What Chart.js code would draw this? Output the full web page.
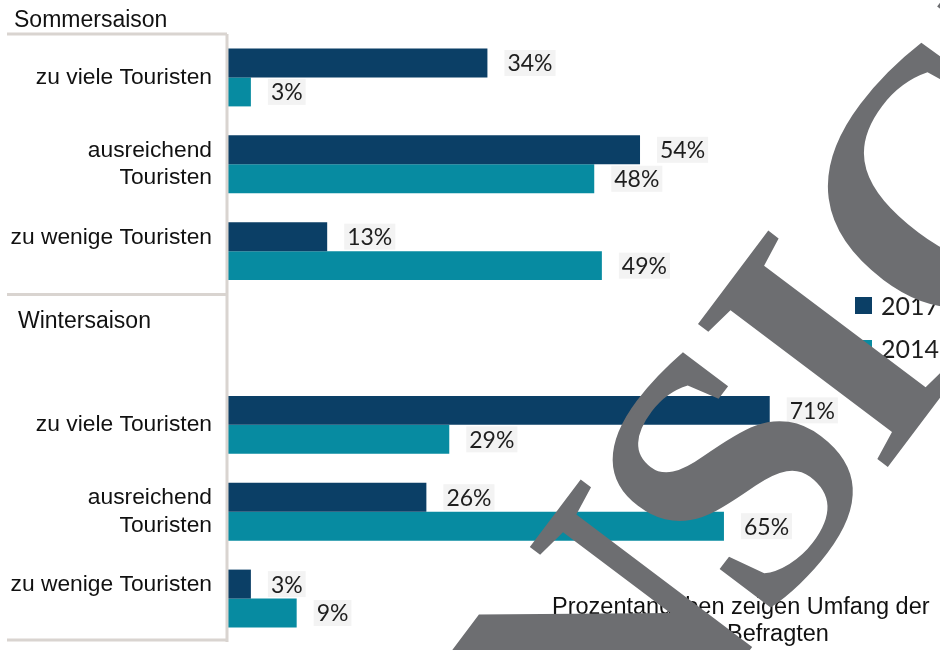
<!DOCTYPE html>
<html>
<head>
<meta charset="utf-8">
<script src="https://cdn.jsdelivr.net/npm/chart.js@4"></script>
<style>
  html, body { margin: 0; padding: 0; background: #fff; overflow: hidden; }
  #wrap { position: relative; width: 1000px; height: 650px; }
</style>
</head>
<body>
<div id="wrap"><canvas id="chartCanvas" width="1000" height="650"></canvas></div>
<script>
// --- data ---
const categories = [
  "zu viele Touristen", ["ausreichend", "Touristen"], ["zu wenige Touristen", ""],
  "",
  "zu viele Touristen", ["ausreichend", "Touristen"], ["zu wenige Touristen", ""]
];
const seasons = ["Sommersaison", "Wintersaison"];
const seriesLabels = ["2017", "2014"];
const values2017 = [34, 54, 13, null, 71, 26, 3];
const values2014 = [3, 48, 49, null, 29, 65, 9];
const footnote = ["Prozentangaben zeigen Umfang der", "Befragten"];
const watermark = "ANSICHT";

const DARK = "#0b3f66";
const TEAL = "#078ba1";
const FRAME = "#d9d4d0";
const SANS = '"Liberation Sans", Arial, sans-serif';

// frame lines, season headings, value labels, legend, footnote
const decor = {
  id: "decor",
  afterDatasetsDraw(chart) {
    const ctx = chart.ctx;
    const area = chart.chartArea;
    const y = chart.scales.y;
    ctx.save();

    // left frame
    ctx.strokeStyle = FRAME;
    ctx.lineWidth = 3;
    const mid = (y.getPixelForValue(2) + y.getPixelForValue(3)) / 2;
    ctx.beginPath();
    ctx.moveTo(7, area.top); ctx.lineTo(area.left - 1, area.top);
    ctx.moveTo(7, mid); ctx.lineTo(area.left - 1, mid);
    ctx.moveTo(7, area.bottom - 2); ctx.lineTo(area.left - 1, area.bottom - 2);
    ctx.moveTo(area.left - 1, area.top); ctx.lineTo(area.left - 1, area.bottom);
    ctx.stroke();

    // season headings
    ctx.fillStyle = "#111";
    ctx.font = "23px " + SANS;
    ctx.textBaseline = "alphabetic";
    ctx.textAlign = "left";
    ctx.fillText(seasons[0], 14, 27);
    ctx.fillText(seasons[1], 18, 328);

    // value labels
    ctx.font = '23px Lato, sans-serif';
    ctx.textBaseline = "middle";
    chart.data.datasets.forEach((ds, i) => {
      chart.getDatasetMeta(i).data.forEach((el, j) => {
        const v = ds.data[j];
        if (v == null) return;
        const txt = v + "%";
        const tx = el.x + 20;
        const w = ctx.measureText(txt).width;
        ctx.fillStyle = "#f3f3f3";
        ctx.fillRect(tx - 3, el.y - 13, w + 6, 26);
        ctx.fillStyle = "#1e1e1e";
        ctx.fillText(txt, tx, el.y + 1);
      });
    });

    // legend
    ctx.font = '25px Lato, sans-serif';
    ctx.textBaseline = "alphabetic";
    chart.data.datasets.forEach((ds, i) => {
      const top = 297 + i * 43;
      ctx.fillStyle = ds.backgroundColor;
      ctx.fillRect(855, top, 17, 17);
      ctx.fillStyle = "#1e1e1e";
      ctx.fillText(ds.label, 881, top + 18);
    });

    // footnote
    ctx.font = "23.5px " + SANS;
    ctx.fillStyle = "#111";
    ctx.fillText(footnote[0], 552, 614);
    ctx.fillText(footnote[1], 727, 641);

    ctx.restore();
  },
  afterDraw(chart) {
    // big grey watermark across the chart
    const ctx = chart.ctx;
    const size = 363;
    ctx.save();
    ctx.font = "bold " + size + 'px "Liberation Serif", serif';
    ctx.fillStyle = "#6d6e71";
    ctx.translate(827, 348);
    ctx.rotate(-53 * Math.PI / 180);
    ctx.textBaseline = "alphabetic";
    ctx.textAlign = "left";
    const y0 = size * 0.662 / 2;
    const k = watermark.indexOf("I");
    const head = watermark.slice(0, k);
    const tail = watermark.slice(k);
    const wI = ctx.measureText("I").width;
    ctx.fillText(tail, -wI / 2, y0);
    // letters before the I overlap their right neighbour a little
    const overlap = [12, 12, 12];
    let x = -wI / 2;
    for (let i = head.length - 1; i >= 0; i--) {
      x += overlap[i];
      x -= ctx.measureText(head[i]).width;
      ctx.fillText(head[i], x, y0);
    }
    ctx.restore();
  }
};

new Chart(document.getElementById("chartCanvas"), {
  type: "bar",
  data: {
    labels: categories,
    datasets: [
      { label: seriesLabels[0], data: values2017, backgroundColor: DARK },
      { label: seriesLabels[1], data: values2014, backgroundColor: TEAL }
    ]
  },
  options: {
    indexAxis: "y",
    responsive: false,
    animation: false,
    categoryPercentage: 0.667,
    barPercentage: 1.0,
    layout: { padding: { top: 34, bottom: 8, left: 0, right: 9 } },
    plugins: {
      legend: { display: false },
      tooltip: { enabled: false },
      title: { display: false }
    },
    scales: {
      x: { display: false, min: 0, max: 100, ticks: { display: false } },
      y: {
        grid: { display: false, drawTicks: false },
        border: { display: false },
        ticks: {
          color: "#111",
          padding: 16,
          font: { family: SANS, size: 22.8, lineHeight: 1.2 }
        },
        afterFit(scale) {
          scale.width = 228;
          scale.paddingTop = 0;
          scale.paddingBottom = 0;
        }
      }
    }
  },
  plugins: [decor]
});
</script>
</body>
</html>
